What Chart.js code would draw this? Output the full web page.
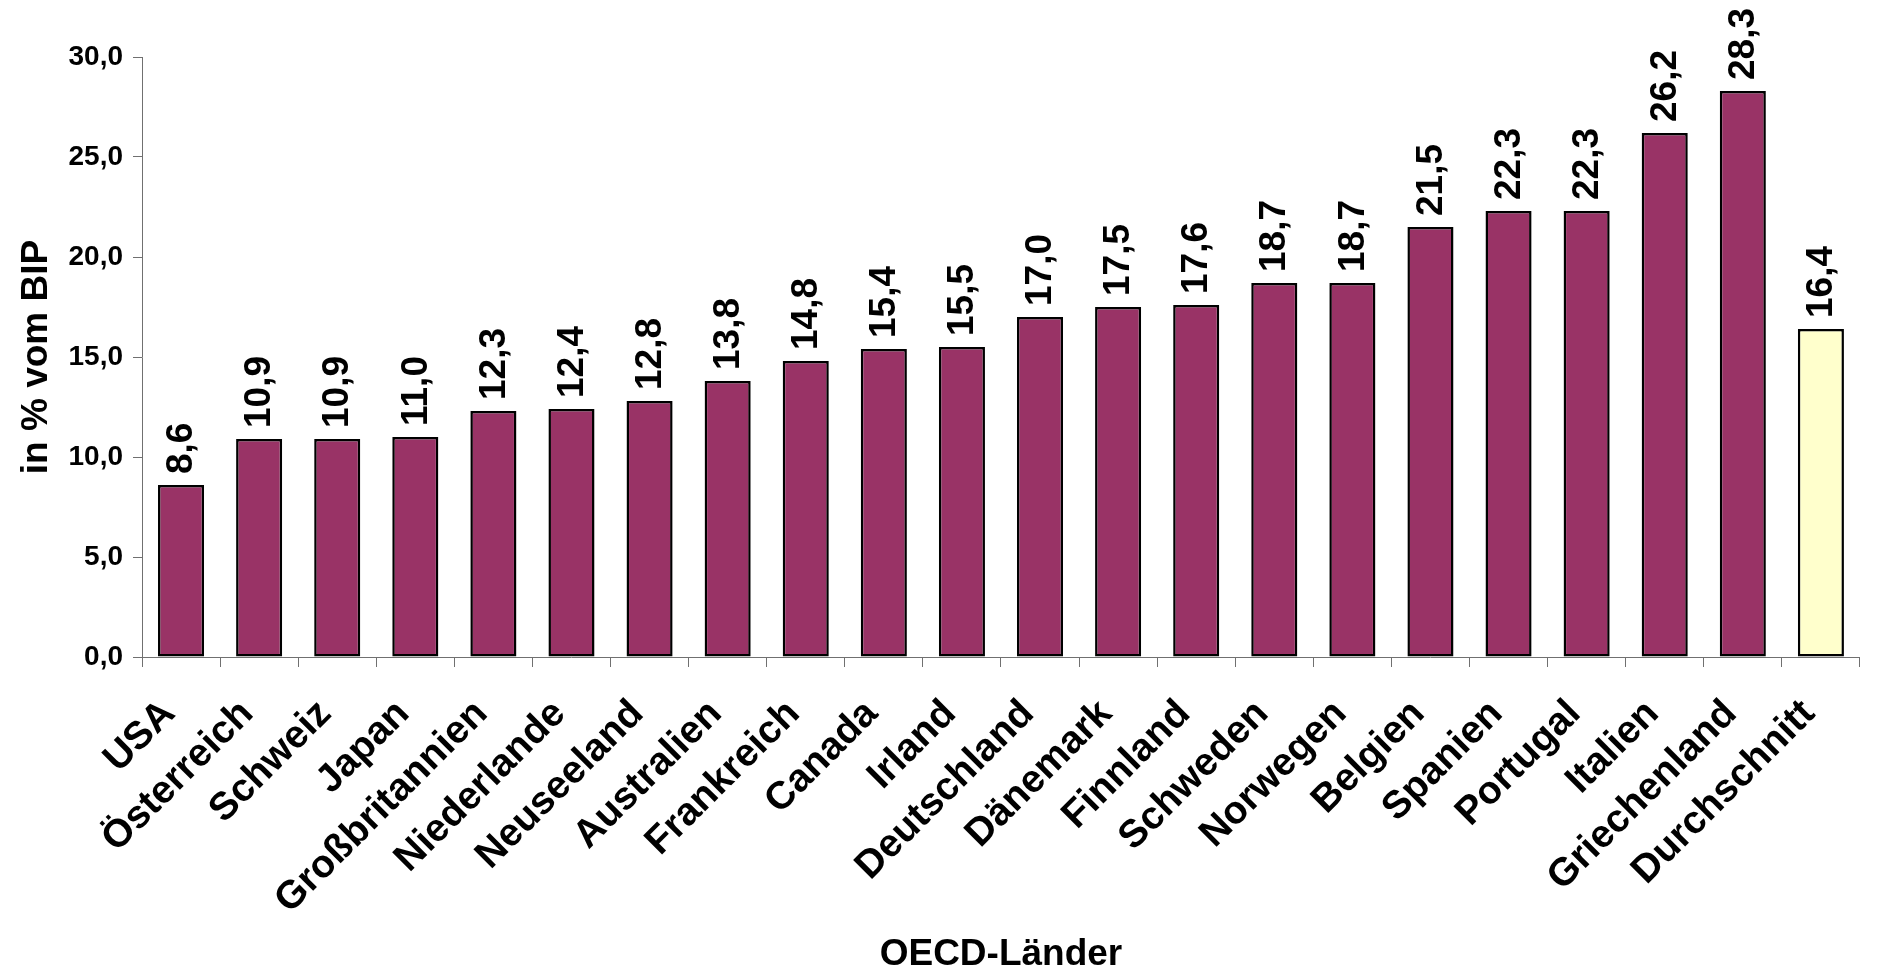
<!DOCTYPE html>
<html>
<head>
<meta charset="utf-8">
<script src="https://cdn.jsdelivr.net/npm/chart.js@4.4.0/dist/chart.umd.min.js"></script>
<style>
  html, body { margin: 0; padding: 0; background: #fff; }
  #wrap { width: 1878px; height: 973px; }
</style>
</head>
<body>
<div id="wrap"><canvas id="oecd-chart"></canvas></div>
<script>
const countries = ['USA', 'Österreich', 'Schweiz', 'Japan', 'Großbritannien', 'Niederlande',
    'Neuseeland', 'Australien', 'Frankreich', 'Canada', 'Irland', 'Deutschland', 'Dänemark',
    'Finnland', 'Schweden', 'Norwegen', 'Belgien', 'Spanien', 'Portugal', 'Italien',
    'Griechenland', 'Durchschnitt'];
const values = [8.6, 10.9, 10.9, 11.0, 12.3, 12.4, 12.8, 13.8, 14.8, 15.4, 15.5, 17.0, 17.5,
    17.6, 18.7, 18.7, 21.5, 22.3, 22.3, 26.2, 28.3, 16.4];
const yTicks = [0, 5, 10, 15, 20, 25, 30];

const fontFamily = '"Liberation Sans", Arial, sans-serif';
const fmt = v => v.toFixed(1).replace('.', ',');

// rotated value labels above the bars
const valueLabels = {
    id: 'valueLabels',
    afterDatasetsDraw(chart) {
        const ctx = chart.ctx;
        const meta = chart.getDatasetMeta(0);
        ctx.save();
        ctx.fillStyle = '#000';
        ctx.font = 'bold 37px ' + fontFamily;
        ctx.textAlign = 'left';
        ctx.textBaseline = 'middle';
        meta.data.forEach((bar, i) => {
            ctx.save();
            ctx.translate(bar.x + 1, bar.y - 11);
            ctx.rotate(-Math.PI / 2);
            ctx.fillText(fmt(values[i]), 0, 0);
            ctx.restore();
        });
        ctx.restore();
    }
};

document.addEventListener('DOMContentLoaded', function() {
    const ctx = document.getElementById('oecd-chart').getContext('2d');

    new Chart(ctx, {
        type: 'bar',
        data: {
            labels: countries,
            datasets: [{
                data: values,
                backgroundColor: countries.map(c => c === 'Durchschnitt' ? '#ffffcc' : '#993366'),
                borderColor: '#000',
                borderWidth: 2.5,
                borderSkipped: false,
                barPercentage: 0.59,
                categoryPercentage: 1.0
            }]
        },
        options: {
            responsive: true,
            maintainAspectRatio: false,
            animation: false,
            layout: {
                padding: { top: 57, right: 0, bottom: 0, left: 0 }
            },
            scales: {
                x: {
                    afterFit: scale => { scale.height = 316; },
                    grid: {
                        offset: true,
                        drawOnChartArea: false,
                        drawTicks: true,
                        tickLength: 10,
                        color: '#707070'
                    },
                    border: { color: '#707070', width: 1 },
                    ticks: {
                        maxRotation: 45,
                        minRotation: 45,
                        autoSkip: false,
                        padding: 24,
                        labelOffset: -12,
                        color: '#000',
                        font: { family: fontFamily, size: 39, weight: 'bold' }
                    },
                    title: {
                        display: true,
                        text: 'OECD-Länder',
                        color: '#000',
                        padding: { top: 0, bottom: 0 },
                        font: { family: fontFamily, size: 37, weight: 'bold', lineHeight: 1.0 }
                    }
                },
                y: {
                    min: 0,
                    max: 30,
                    afterFit: scale => { scale.width = 142; },
                    afterBuildTicks: scale => {
                        scale.ticks = yTicks.map(v => ({ value: v }));
                    },
                    grid: {
                        drawOnChartArea: false,
                        drawTicks: true,
                        tickLength: 9,
                        color: '#707070'
                    },
                    border: { color: '#707070', width: 1 },
                    ticks: {
                        padding: 10,
                        color: '#000',
                        font: { family: fontFamily, size: 28, weight: 'bold' },
                        callback: v => fmt(v)
                    },
                    title: {
                        display: true,
                        text: 'in % vom BIP',
                        color: '#000',
                        padding: { top: 18, bottom: 0 },
                        font: { family: fontFamily, size: 37, weight: 'bold', lineHeight: 1.0 }
                    }
                }
            },
            plugins: {
                legend: { display: false },
                tooltip: { enabled: false }
            }
        },
        plugins: [valueLabels]
    });
});
</script>
</body>
</html>
